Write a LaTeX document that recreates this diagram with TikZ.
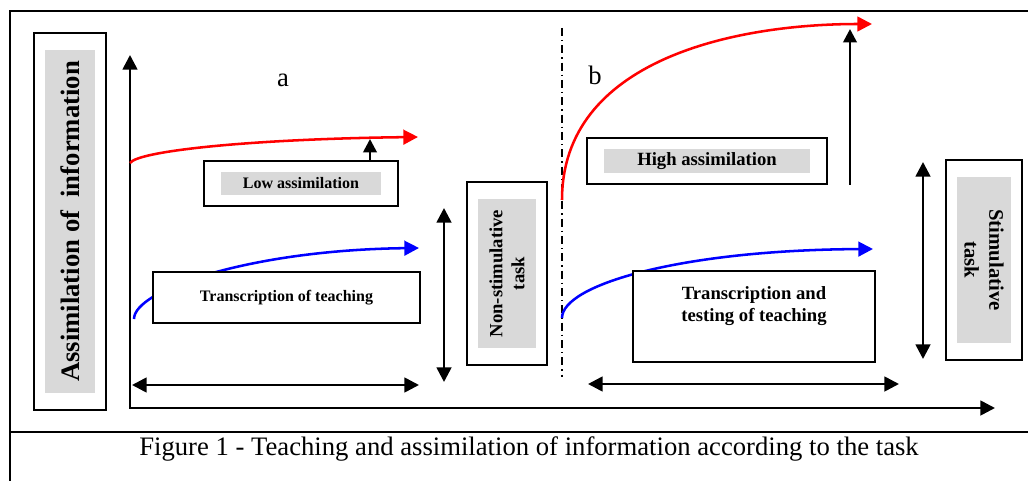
\documentclass[tikz,border=0pt]{standalone}
\usepackage{fontspec}
\setmainfont{Liberation Serif}
\usetikzlibrary{arrows.meta,fit}
\definecolor{tagfill}{HTML}{D9D9D9}
\definecolor{highline}{HTML}{FF0000}
\definecolor{lowline}{HTML}{0000FF}
\newcommand{\twelve}{\fontsize{12}{14.4}\selectfont}
\newcommand{\fourteen}{\fontsize{14}{16.5}\selectfont}
\newcommand{\fifteen}{\fontsize{15.5}{18.6}\selectfont}
\newcommand{\twenty}{\fontsize{20}{24}\selectfont}
\tikzset{
 every node/.append style={align=center},
 greytag/.style={fill=tagfill,inner sep=0pt},
 tagbox/.style={draw,line width=1.5pt,inner xsep=12.4pt,inner ysep=7.9pt},
 sidebox/.style={draw,line width=1.5pt,inner xsep=7.9pt,inner ysep=12.4pt},
 plainbox/.style={draw,fill=white,line width=1.5pt},
 frame/.style={line width=1.2pt},
 axis/.style={{Triangle[length=11pt,width=11pt]}-{Triangle[length=11pt,width=11pt]},line width=2pt},
 span/.style={{Triangle[length=11pt,width=11pt]}-{Triangle[length=11pt,width=11pt]},line width=2pt},
 rise/.style={-{Triangle[length=10pt,width=10pt]},line width=2pt},
 highcurve/.style={-{Triangle[length=11pt,width=11pt]},draw=highline,line width=1.9pt},
 lowcurve/.style={-{Triangle[length=11pt,width=11pt]},draw=lowline,line width=1.9pt},
 divider/.style={line width=1.1pt,dash pattern=on 6pt off 3pt on 1pt off 3pt},
}
\begin{document}
\begin{tikzpicture}[x=0.75pt,y=-0.75pt]

\useasboundingbox (0,0) rectangle (1028,481);
\draw[frame] (10,481) -- (10,11) -- (1028,11);
\draw[frame] (10,432) -- (1028,432);

\coordinate (ytip) at (130,55);
\coordinate (xtip) at (995,408);
\draw[axis] (ytip) |- (xtip);

\coordinate (splitT) at (562,28);
\coordinate (splitB) at (562,377);
\draw[divider] (splitT) -- (splitB);

\coordinate (highAstart) at (130,163);
\coordinate (highAend) at (418,137);
\coordinate (lowAstart) at (134,319);
\coordinate (lowAend) at (419,248);
\coordinate (highBstart) at (562,200);
\coordinate (highBend) at (872,24);
\coordinate (lowBstart) at (562,318);
\coordinate (lowBend) at (873,249);
\draw[highcurve] (highAstart) .. controls (138,151) and (250,139) .. (highAend);
\draw[lowcurve] (lowAstart) .. controls (134,290) and (250,250) .. (lowAend);
\draw[highcurve] (highBstart) to[out=90,in=180] (highBend);
\draw[lowcurve] (lowBstart) .. controls (562,285) and (680,250) .. (lowBend);

\node[greytag,rotate=90,minimum width=257.25pt,minimum height=37.5pt,font=\twenty\bfseries] (assimtag) at (70,221.5) {Assimilation of~~information};
\node[sidebox,fit=(assimtag)] (assimbox) {};

\node[greytag,minimum width=120pt,minimum height=17.25pt,font=\twelve\bfseries] (lowtag) at (301,183.5) {Low assimilation};
\node[tagbox,fit=(lowtag)] (lowbox) {};
\node[greytag,minimum width=154.5pt,minimum height=18pt,font=\fourteen\bfseries] (hightag) at (707,161) {High assimilation};
\node[tagbox,fit=(hightag)] (highbox) {};

\node[greytag,rotate=90,minimum width=111.75pt,minimum height=43.5pt,font=\fourteen\bfseries] (nonstimtag) at (507,273.5) {Non-stimulative\\task};
\node[sidebox,fit=(nonstimtag)] (nonstimbox) {};
\node[greytag,rotate=-90,minimum width=124.5pt,minimum height=40.5pt,font=\fifteen\bfseries] (stimtag) at (984,260) {Stimulative\\task};
\node[sidebox,fit=(stimtag)] (stimbox) {};

\node[plainbox,minimum width=200.25pt,minimum height=38.25pt,font=\twelve\bfseries] (teachbox) at (286.5,297.5) {Transcription of teaching};
\node[plainbox,minimum width=181.5pt,minimum height=68.25pt] (testbox) at (754,316.5) {};
\node[font=\fourteen\bfseries,anchor=north,inner sep=0pt] (testtext) at ([yshift=-12pt]testbox.north) {Transcription and\\testing of teaching};

\coordinate (lowtip) at (370,139);
\coordinate (hightip) at (850,29);
\draw[rise] (lowbox.north -| lowtip) -- (lowtip);
\draw[rise] (highbox.south -| hightip) -- (hightip);

\coordinate (aspanL) at (132,385);
\coordinate (aspanR) at (419,385);
\coordinate (arangeT) at (444,208);
\coordinate (arangeB) at (444,382);
\coordinate (bspanL) at (588,384);
\coordinate (bspanR) at (899,384);
\coordinate (brangeT) at (923,162);
\coordinate (brangeB) at (923,359);
\draw[span] (aspanL) -- (aspanR);
\draw[span] (arangeT) -- (arangeB);
\draw[span] (bspanL) -- (bspanR);
\draw[span] (brangeT) -- (brangeB);

\node[font=\twenty] (parta) at (283,80) {a};
\node[font=\twenty] (partb) at (595,75) {b};
\node[font=\twenty] (caption) at (529,449) {Figure 1 - Teaching and assimilation of information according to the task};

\end{tikzpicture}
\end{document}
